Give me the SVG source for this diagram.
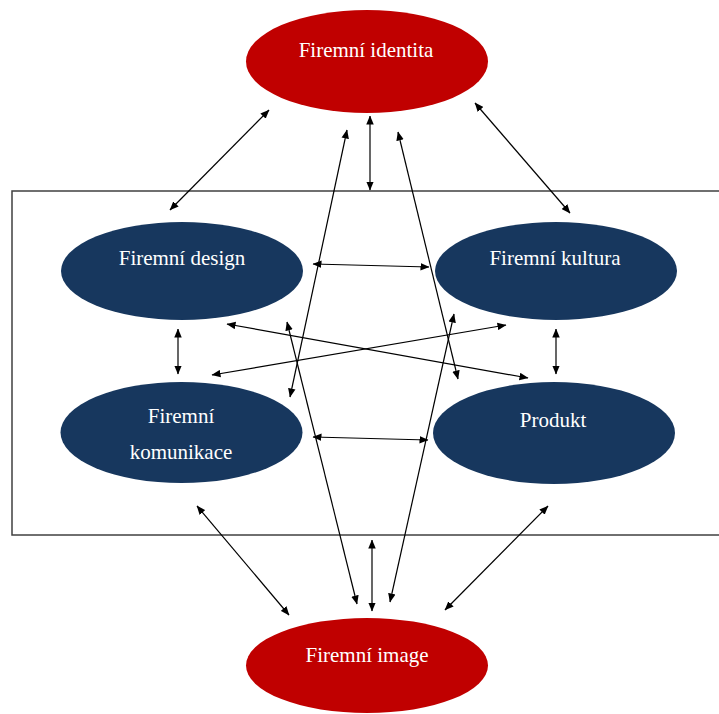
<svg xmlns="http://www.w3.org/2000/svg" width="719" height="714" viewBox="0 0 719 714">
<style>
.red{fill:#C00000}
.blue{fill:#17375E}
.lbl{font-family:"Liberation Serif","Times New Roman",serif;font-size:21px;fill:#FFFFFF;text-anchor:middle}
.c line{stroke:#000;stroke-width:1.2;marker-start:url(#ah);marker-end:url(#ah)}
</style>
<defs>
<marker id="ah" markerUnits="userSpaceOnUse" markerWidth="9" markerHeight="8" refX="8.5" refY="3.75" orient="auto-start-reverse" viewBox="0 0 9 7.5">
<path d="M0,0 L9,3.75 L0,7.5 z" fill="#000"/>
</marker>
</defs>
<rect id="frame" x="12" y="191" width="720" height="344" fill="none" stroke="#404040" stroke-width="1.5"/>
<g id="identita"><ellipse class="red" cx="367" cy="61.5" rx="121" ry="51.5"/><text class="lbl" x="366" y="57">Firemní identita</text></g>
<g id="design"><ellipse class="blue" cx="182" cy="271" rx="121" ry="49"/><text class="lbl" x="182" y="265">Firemní design</text></g>
<g id="kultura"><ellipse class="blue" cx="556" cy="271" rx="121" ry="49"/><text class="lbl" x="555" y="265">Firemní kultura</text></g>
<g id="komunikace"><ellipse class="blue" cx="181.5" cy="432.5" rx="121" ry="50.5"/><text class="lbl" x="181" y="423">Firemní</text><text class="lbl" x="181" y="459">komunikace</text></g>
<g id="produkt"><ellipse class="blue" cx="554" cy="433" rx="121" ry="51"/><text class="lbl" x="553" y="427">Produkt</text></g>
<g id="image"><ellipse class="red" cx="367" cy="665.5" rx="121" ry="47.5"/><text class="lbl" x="367" y="662">Firemní image</text></g>
<g id="connectors" class="c">
<line x1="269" y1="110" x2="170" y2="210"/>
<line x1="475" y1="103" x2="570" y2="213"/>
<line x1="370" y1="116" x2="370" y2="190"/>
<line x1="347" y1="130" x2="290" y2="397"/>
<line x1="287" y1="322" x2="357" y2="604"/>
<line x1="398" y1="132" x2="458" y2="379"/>
<line x1="454" y1="314" x2="390" y2="602"/>
<line x1="372" y1="540" x2="372" y2="611"/>
<line x1="197" y1="506" x2="289" y2="615"/>
<line x1="548" y1="506" x2="445" y2="610"/>
<line x1="313" y1="264" x2="429" y2="267"/>
<line x1="313" y1="437" x2="428" y2="440"/>
<line x1="178" y1="329" x2="178" y2="374"/>
<line x1="556" y1="329" x2="556" y2="374"/>
<line x1="227" y1="324" x2="528" y2="378"/>
<line x1="212" y1="375" x2="506" y2="325"/>
</g>
</svg>
